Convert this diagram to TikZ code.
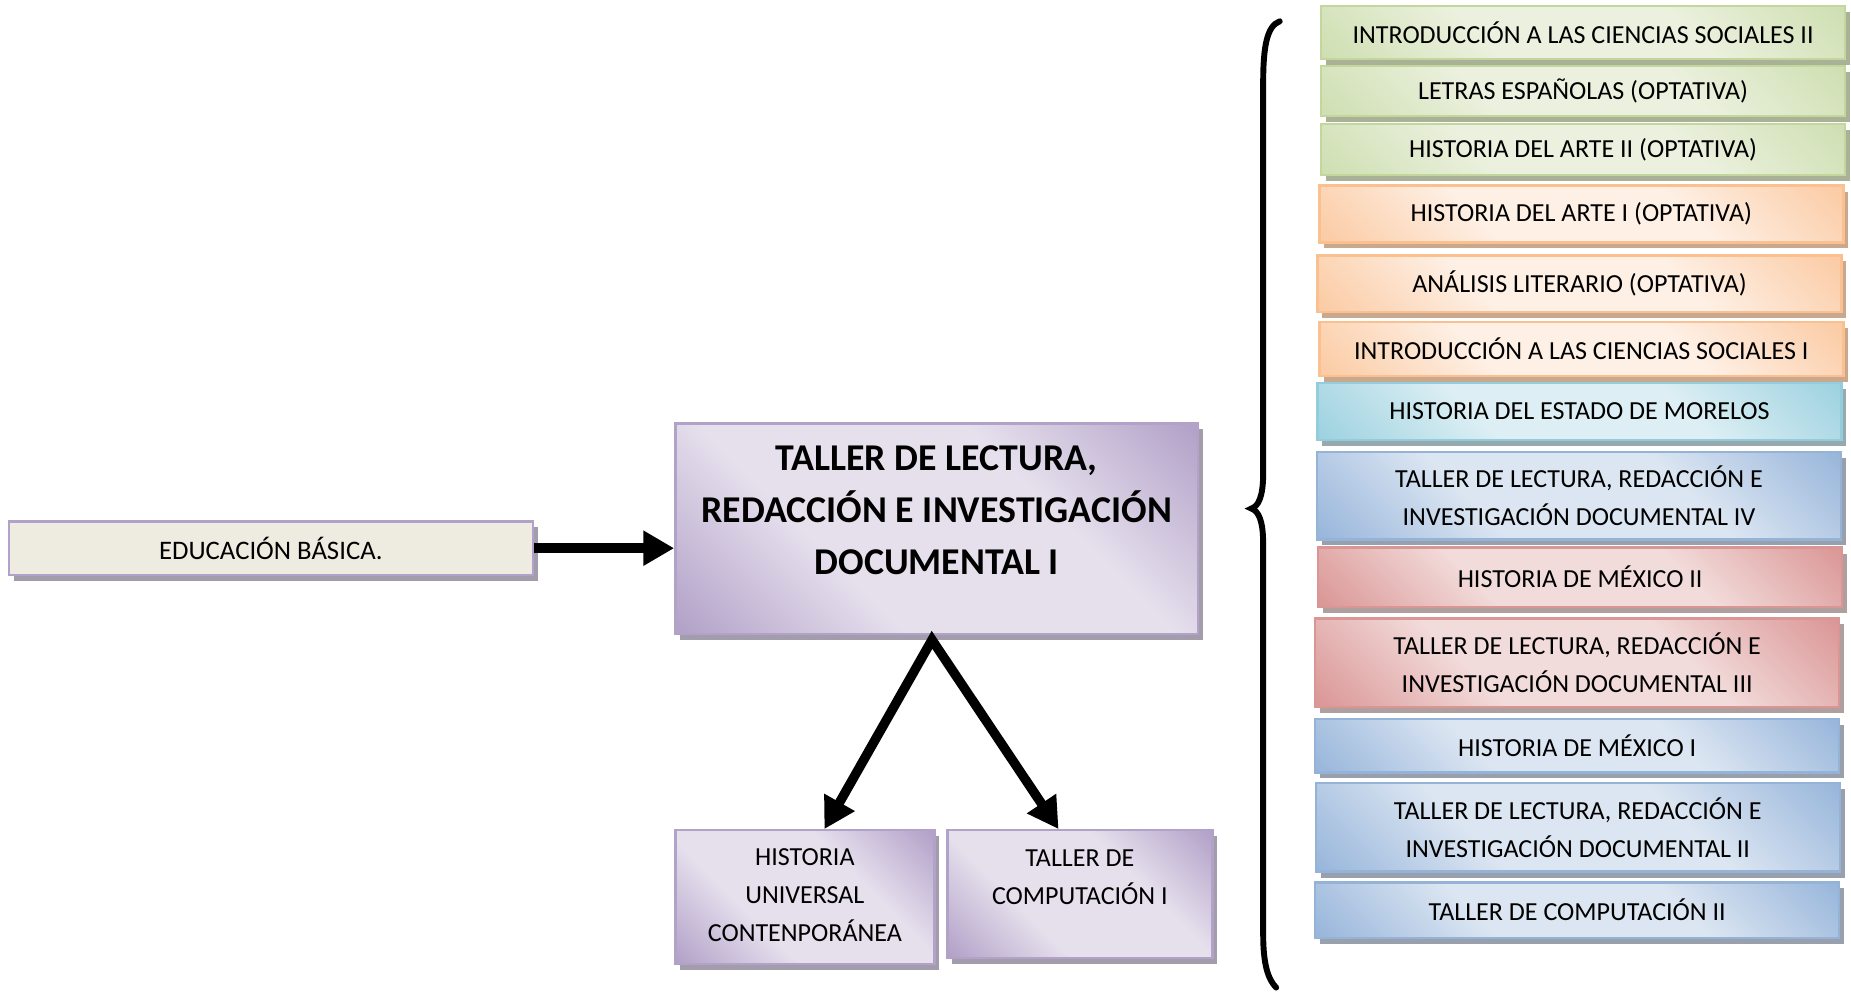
\documentclass[tikz,border=0pt]{standalone}
\usepackage{fontspec}
\setmainfont{Carlito}
\usetikzlibrary{arrows.meta,shadows}

% colores de las cajas
\definecolor{lilaborde}{HTML}{B3A2C7}
\definecolor{lilaosc}{HTML}{B2A1C8}
\definecolor{lilaclaro}{HTML}{E6E0ED}
\definecolor{lilasombra}{HTML}{A29CAD}
\definecolor{beige}{HTML}{EEECE1}
\definecolor{verdeborde}{HTML}{C3D69B}
\definecolor{verdeosc}{HTML}{CFDFB2}
\definecolor{verdeclaro}{HTML}{EBF1DE}
\definecolor{verdesombra}{HTML}{A9B196}
\definecolor{naranjaborde}{HTML}{FAC090}
\definecolor{naranjaosc}{HTML}{FBCBA4}
\definecolor{naranjaclaro}{HTML}{FEF0E5}
\definecolor{naranjasombra}{HTML}{C9A88E}
\definecolor{aguaborde}{HTML}{93CDDD}
\definecolor{aguaosc}{HTML}{9DD2E0}
\definecolor{aguaclaro}{HTML}{DDEFF4}
\definecolor{aguasombra}{HTML}{95A9AE}
\definecolor{azulborde}{HTML}{95B3D7}
\definecolor{azulosc}{HTML}{98B6DB}
\definecolor{azulclaro}{HTML}{DCE6F2}
\definecolor{azulsombra}{HTML}{97A0AC}
\definecolor{rojoborde}{HTML}{D99694}
\definecolor{rojoosc}{HTML}{DA9796}
\definecolor{rojoclaro}{HTML}{F2DCDB}
\definecolor{rojosombra}{HTML}{B09F9F}

% degradado con esquinas oscuras
\colorlet{cajaosc}{gray}
\colorlet{cajaclaro}{white}
\pgfdeclareverticalshading[cajaosc,cajaclaro]{esquinas}{100bp}{color(0bp)=(cajaosc); color(15bp)=(cajaosc);
  color(37bp)=(cajaclaro); color(63bp)=(cajaclaro); color(85bp)=(cajaosc); color(100bp)=(cajaosc)}

\tikzset{
  caja/.style={rectangle, line width=1pt, inner sep=0pt, align=center,
    font=\fontsize{11}{16}\selectfont, minimum width=221.5pt},
  sombra/.style={general shadow={fill=#1, shadow xshift=2pt, shadow yshift=-2.5pt}},
  degradado/.style 2 args={/utils/exec={\colorlet{cajaosc}{#1}\colorlet{cajaclaro}{#2}},
    shading=esquinas, shading angle=-45},
  lila/.style={caja, draw=lilaborde, degradado={lilaosc}{lilaclaro}, sombra=lilasombra},
  verde/.style={caja, draw=verdeborde, degradado={verdeosc}{verdeclaro}, sombra=verdesombra},
  naranja/.style={caja, draw=naranjaborde, degradado={naranjaosc}{naranjaclaro}, sombra=naranjasombra},
  agua/.style={caja, draw=aguaborde, degradado={aguaosc}{aguaclaro}, sombra=aguasombra},
  azul/.style={caja, draw=azulborde, degradado={azulosc}{azulclaro}, sombra=azulsombra},
  rojo/.style={caja, draw=rojoborde, degradado={rojoosc}{rojoclaro}, sombra=rojosombra},
  flecha/.style={line width=4pt, -{Triangle[length=13pt,width=14pt]}},
}

\begin{document}
\begin{tikzpicture}[x=0.5pt, y=-0.5pt]

    \useasboundingbox (0,0) rectangle (1565,838);

    % caja de entrada
    \node (edu) [caja, draw=lilaborde, fill=beige, sombra=lilasombra, minimum height=22.5pt, font=\fontsize{11.3}{16}\selectfont] at (229,463.5) {EDUCACIÓN BÁSICA.};

    % materia central
    \node (main) [lila, minimum width=221pt, minimum height=89pt] at (792,447) {};
    \node (maintxt) [align=center, font=\bfseries\fontsize{16}{22}\selectfont] at (792,431.5) {TALLER DE LECTURA,\\ REDACCIÓN E INVESTIGACIÓN\\ DOCUMENTAL I};

    % materias de abajo
    \node (hist) [lila, minimum width=109.5pt, minimum height=56.5pt] at (680.5,758.5) {};
    \node (histtxt) [align=center, font=\fontsize{11}{16}\selectfont] at (680.5,757) {HISTORIA\\ UNIVERSAL\\ CONTENPORÁNEA};
    \node (comp) [lila, minimum width=112pt, minimum height=54pt] at (913,756) {};
    \node (comptxt) [align=center, font=\fontsize{11}{16}\selectfont] at (913,741.5) {TALLER DE\\ COMPUTACIÓN I};

    % columna de la derecha
    \node (ics2) [verde, minimum height=22.5pt] at (1338.5,27.5) {INTRODUCCIÓN A LAS CIENCIAS SOCIALES II};
    \node (letras) [verde, minimum height=21pt] at (1338.5,77) {LETRAS ESPAÑOLAS (OPTATIVA)};
    \node (arte2) [verde, minimum height=21.5pt] at (1338.5,126.5) {HISTORIA DEL ARTE II (OPTATIVA)};
    \node (arte1) [naranja, minimum height=24pt] at (1337,181) {HISTORIA DEL ARTE I (OPTATIVA)};
    \node (analisis) [naranja, minimum height=24pt] at (1335.5,240) {ANÁLISIS LITERARIO (OPTATIVA)};
    \node (ics1) [naranja, minimum height=23pt] at (1337,295) {INTRODUCCIÓN A LAS CIENCIAS SOCIALES I};
    \node (morelos) [agua, minimum height=24pt] at (1335.5,348) {HISTORIA DEL ESTADO DE MORELOS};
    \node (tlr4) [azul, minimum height=37pt] at (1335,419) {TALLER DE LECTURA, REDACCIÓN E\\ INVESTIGACIÓN DOCUMENTAL IV};
    \node (mex2) [rojo, minimum height=25pt] at (1336,488) {HISTORIA DE MÉXICO II};
    \node (tlr3) [rojo, minimum height=37.5pt] at (1333.5,560.5) {TALLER DE LECTURA, REDACCIÓN E\\ INVESTIGACIÓN DOCUMENTAL III};
    \node (mex1) [azul, minimum height=22.5pt] at (1333.5,630.5) {HISTORIA DE MÉXICO I};
    \node (tlr2) [azul, minimum height=37.5pt] at (1334,699.5) {TALLER DE LECTURA, REDACCIÓN E\\ INVESTIGACIÓN DOCUMENTAL II};
    \node (comp2) [azul, minimum height=23.5pt] at (1333.5,769.5) {TALLER DE COMPUTACIÓN II};

    % flechas
    \draw[flecha] (edu.east) -- (edu.east -| main.west);
    \draw[line width=4pt, line join=miter, {Triangle[length=13pt,width=14pt]}-{Triangle[length=13pt,width=14pt]}]
        ([xshift=8.25pt]hist.north) -- ([xshift=-2pt,yshift=-2pt]main.south) -- ([xshift=-9pt]comp.north);

    % llave
    \draw[line width=2.5pt, line cap=round] (1082,18) .. controls (1071,22) and (1068,40) .. (1068,70)
        -- (1068,400) .. controls (1068,420) and (1064,428) .. (1058,430)
        .. controls (1064,432) and (1068,440) .. (1068,460)
        -- (1068,790) .. controls (1068,815) and (1072,828) .. (1079,835);

\end{tikzpicture}
\end{document}
